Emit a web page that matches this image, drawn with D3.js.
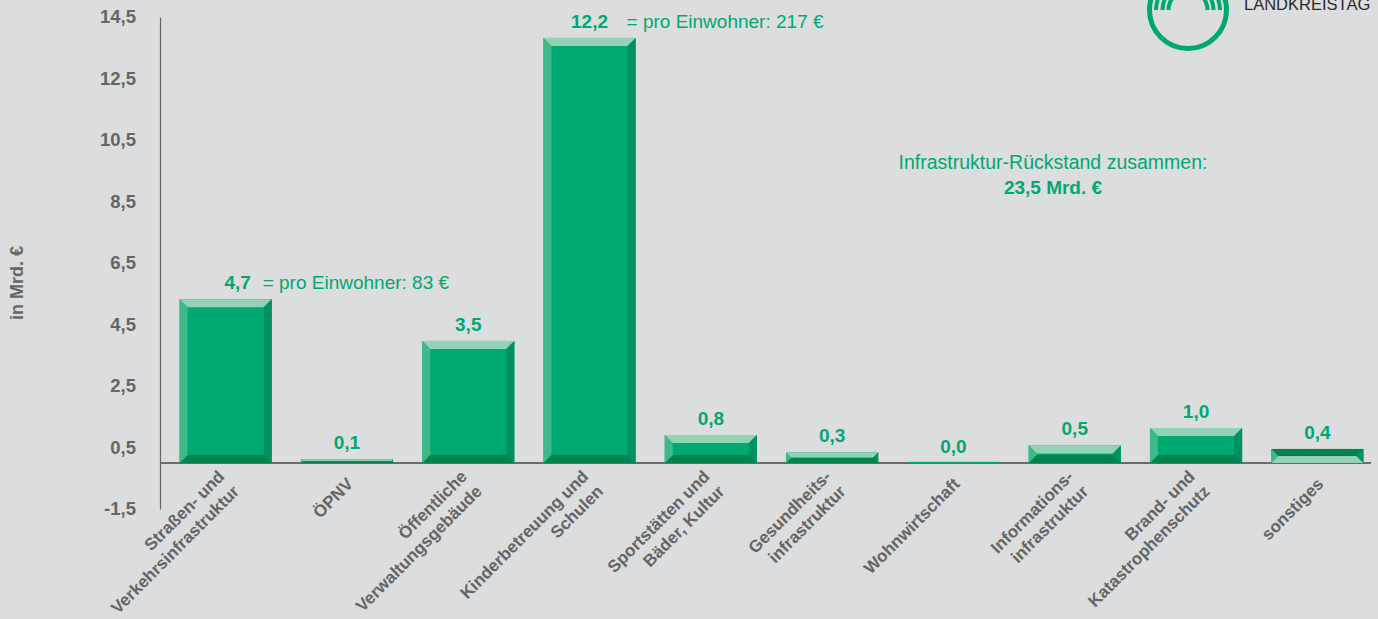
<!DOCTYPE html>
<html>
<head>
<meta charset="utf-8">
<script src="https://cdn.jsdelivr.net/npm/d3@7"></script>
<style>
  body { margin: 0; background: #dcdddf; }
  svg { display: block; font-family: "Liberation Sans", Arial, sans-serif; }
</style>
</head>
<body>
<div id="chart"></div>
<script>
// Data
const categories = [
    "Straßen- und\nVerkehrsinfrastruktur",
    "ÖPNV",
    "Öffentliche\nVerwaltungsgebäude",
    "Kinderbetreuung und\nSchulen",
    "Sportstätten und\nBäder, Kultur",
    "Gesundheits-\ninfrastruktur",
    "Wohnwirtschaft",
    "Informations-\ninfrastruktur",
    "Brand- und\nKatastrophenschutz",
    "sonstiges"
];
const values = [4.7, 0.1, 3.5, 12.2, 0.8, 0.3, 0.0, 0.5, 1.0, 0.4];
const yTicks = [-1.5, 0.5, 2.5, 4.5, 6.5, 8.5, 10.5, 12.5, 14.5];
const perCapita = [
    { category: "Straßen- und\nVerkehrsinfrastruktur", text: "= pro Einwohner: 83 €" },
    { category: "Kinderbetreuung und\nSchulen", text: "= pro Einwohner: 217 €" }
];
const totalLines = ["Infrastruktur-Rückstand zusammen:", "23,5 Mrd. €"];

const width = 1378, height = 619;
const green = "#00a870", grey = "#656565";

const svg = d3.select("#chart").append("svg")
    .attr("width", width)
    .attr("height", height);

svg.append("rect").attr("width", width).attr("height", height).attr("fill", "#dcdddf");

// Scales
const y = d3.scaleLinear().domain([-1.5, 14.5]).range([509, 17]);
// bars in the original are drawn a bit taller than the axis suggests
const yBar = d3.scaleLinear().domain([0, 12.8]).range([y(0), y(14.5)]);
const x = d3.scaleBand()
    .domain(categories)
    .range([165, 1378])
    .paddingInner(0.24)
    .paddingOuter(0.12);

const fmt = v => d3.format(".1f")(v).replace(".", ",").replace("\u2212", "-");

// Y axis
svg.append("g")
    .attr("transform", "translate(160,0)")
    .call(d3.axisLeft(y).tickValues(yTicks).tickSize(0).tickSizeOuter(0).tickPadding(24).tickFormat(fmt))
    .call(g => g.select(".domain").attr("stroke", grey).attr("stroke-width", 1.2))
    .call(g => g.selectAll("text")
        .attr("fill", grey)
        .style("font-family", "'Liberation Sans', Arial, sans-serif")
        .style("font-size", "18.5px")
        .style("font-weight", "bold"));

svg.append("text")
    .attr("transform", "translate(23,283) rotate(-90)")
    .attr("text-anchor", "middle")
    .attr("fill", grey)
    .style("font-size", "18px")
    .style("font-weight", "bold")
    .text("in Mrd. €");

// Baseline
svg.append("line")
    .attr("x1", 160).attr("x2", 1371)
    .attr("y1", y(0)).attr("y2", y(0))
    .attr("stroke", "#6a6a6a")
    .attr("stroke-width", 2);

// Bevelled bars
const data = categories.map((c, i) => ({ category: c, value: values[i] }));
const shades = { top: "#93d2b5", left: "#3fb98a", face: "#00a972", right: "#009160", bottom: "#00834f" };

const bars = svg.append("g").selectAll("g")
    .data(data)
    .join("g");

bars.each(function(d) {
    const g = d3.select(this);
    const x0 = x(d.category), x1 = x0 + x.bandwidth();
    const bot = yBar(0);
    if (d.value === 0) {
        g.append("rect")
            .attr("x", x0).attr("width", x.bandwidth())
            .attr("y", bot - 1).attr("height", 2)
            .attr("fill", green);
        return;
    }
    const top = yBar(d.value);
    const b = Math.min(8, (bot - top) / 2);
    const flipped = d.category === "sonstiges";
    const poly = (pts, fill) => g.append("polygon")
        .attr("points", pts.map(p => p.join(",")).join(" "))
        .attr("fill", fill);
    g.append("rect")
        .attr("x", x0).attr("y", top)
        .attr("width", x1 - x0).attr("height", bot - top)
        .attr("fill", shades.face);
    poly([[x0, top], [x1, top], [x1 - b, top + b], [x0 + b, top + b]], flipped ? shades.bottom : shades.top);
    poly([[x0, bot], [x1, bot], [x1 - b, bot - b], [x0 + b, bot - b]], flipped ? shades.top : shades.bottom);
    poly([[x0, top], [x0 + b, top + b], [x0 + b, bot - b], [x0, bot]], shades.left);
    poly([[x1, top], [x1, bot], [x1 - b, bot - b], [x1 - b, top + b]], shades.right);
});

// Value labels
svg.append("g").selectAll("text")
    .data(data)
    .join("text")
    .attr("x", (d, i) => x(d.category) + x.bandwidth() / 2 + (i === 0 ? 12 : 0))
    .attr("y", d => (d.value === 0 ? yBar(0) : yBar(d.value)) - 10)
    .attr("text-anchor", "middle")
    .attr("fill", green)
    .style("font-size", "19px")
    .style("font-weight", "bold")
    .text(d => fmt(d.value));

// Per-capita notes
svg.append("g").selectAll("text")
    .data(perCapita)
    .join("text")
    .attr("x", d => x(d.category) + x.bandwidth() / 2 + 37)
    .attr("y", d => yBar(values[categories.indexOf(d.category)]) - 10)
    .attr("fill", green)
    .style("font-size", "19px")
    .text(d => d.text);

// Total note
svg.append("text")
    .attr("x", 1053).attr("y", 169)
    .attr("text-anchor", "middle")
    .attr("fill", green)
    .style("font-size", "19.5px")
    .text(totalLines[0]);
svg.append("text")
    .attr("x", 1053).attr("y", 194)
    .attr("text-anchor", "middle")
    .attr("fill", green)
    .style("font-size", "19px")
    .style("font-weight", "bold")
    .text(totalLines[1]);

// Rotated category labels
const lineH = 21;
const labels = svg.append("g").selectAll("text")
    .data(categories)
    .join("text")
    .attr("transform", d => `translate(${x(d) + x.bandwidth() / 2 + 3},${y(0) + 18}) rotate(-45)`)
    .attr("text-anchor", "end")
    .attr("fill", grey)
    .style("font-size", "17px")
    .style("font-weight", "bold");

labels.each(function(d) {
    const lines = d.split("\n");
    const t = d3.select(this);
    lines.forEach((l, i) => {
        t.append("tspan")
            .attr("x", 0)
            .attr("y", (i - (lines.length - 1) / 2) * lineH)
            .attr("dy", "0.35em")
            .text(l);
    });
});

// Logo fragment (top right, cut by the page edge)
const logo = svg.append("g").attr("transform", "translate(1188,10)");
logo.append("circle").attr("r", 38.5).attr("fill", "none").attr("stroke", green).attr("stroke-width", 5);
[32, 25.5, 19.5].forEach(r => {
    logo.append("path")
        .attr("d", d3.arc().innerRadius(r - 2).outerRadius(r + 2).startAngle(-Math.PI / 2).endAngle(Math.PI / 2)())
        .attr("fill", green);
});
svg.append("text")
    .attr("x", 1244).attr("y", 10)
    .attr("fill", "#2a2a2a")
    .style("font-size", "16.5px")
    .text("LANDKREISTAG");
</script>
</body>
</html>
